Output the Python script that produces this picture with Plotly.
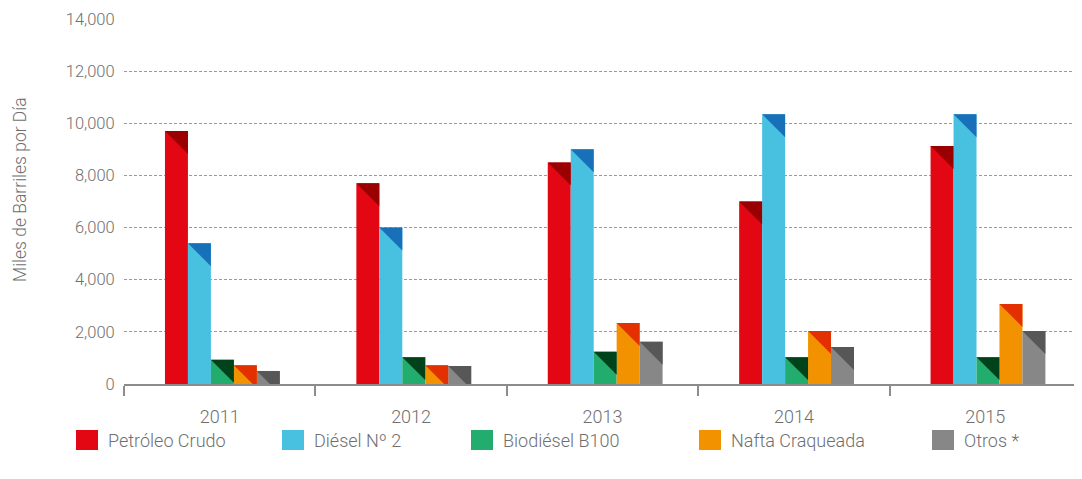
import plotly.graph_objects as go

# ---- data ----
years = ["2011", "2012", "2013", "2014", "2015"]
series_names = ["Petróleo Crudo", "Diésel Nº 2", "Biodiésel B100", "Nafta Craqueada", "Otros *"]
petroleo = [9700, 7700, 8500, 7000, 9130]
diesel = [5400, 6000, 9000, 10350, 10350]
biodiesel = [930, 1030, 1240, 1030, 1030]
nafta = [720, 720, 2340, 2030, 3070]
otros = [500, 690, 1620, 1420, 2030]
y_ticks = [0, 2000, 4000, 6000, 8000, 10000, 12000, 14000]

series_values = [petroleo, diesel, biodiesel, nafta, otros]
main_colors = ["#E30613", "#48C0E0", "#22AD6F", "#F39200", "#878787"]
dark_colors = ["#9A0000", "#1870B8", "#00421A", "#E23000", "#575757"]

# ---- layout geometry (page body has an 8px margin) ----
PAGE = 8
W, H = 1082 - PAGE, 479 - PAGE
PL, PR, PT, PB = 124, 1081, 19, 384          # plot area in page pixels
ML, MT = PL - PAGE, PT - PAGE
MR, MB = W - (PR - PAGE), H - (PB - PAGE)
PW, PH = PR - PL, PB - PT
XR = [-0.5, 4.5]
YR = [0, 14000]
BW = 0.12
SHIFT = 0.014
xpx = PW / (XR[1] - XR[0])
ypx = PH / (YR[1] - YR[0])


def px_x(px):
    return (px - PL) / PW


def px_y(py):
    return (PB - py) / PH


fig = go.Figure()
xs = list(range(len(years)))

for i, (name, vals) in enumerate(zip(series_names, series_values)):
    off = -0.3 + i * BW + SHIFT
    fig.add_trace(go.Bar(
        x=xs, y=vals, name=name, width=BW, offset=off,
        marker=dict(color=main_colors[i], line=dict(width=0)),
        showlegend=False,
    ))
    # dark corner triangles
    h = BW * xpx / ypx
    for x, v in zip(xs, vals):
        xl = x + off
        xr = xl + BW
        if v - h >= 0:
            pxs = [xl, xr, xr, xl]
            pys = [v, v, v - h, v]
        else:
            t = v / h
            xm = xl + t * (xr - xl)
            pxs = [xl, xr, xr, xm, xl]
            pys = [v, v, 0, 0, v]
        fig.add_trace(go.Scatter(
            x=pxs, y=pys, mode="lines", fill="toself",
            fillcolor=dark_colors[i], line=dict(width=0, color=dark_colors[i]),
            hoverinfo="skip", showlegend=False,
        ))

txt_color = "#6f6f6f"
font_family = "Roboto, Liberation Sans, Arial, sans-serif"
FW = 300

# custom legend
leg_sq_x = [76, 282, 471, 699, 932]
shapes = []
annotations = []
for i, name in enumerate(series_names):
    x0 = leg_sq_x[i]
    shapes.append(dict(
        type="rect", xref="paper", yref="paper",
        x0=px_x(x0), x1=px_x(x0 + 22),
        y0=px_y(450), y1=px_y(430),
        fillcolor=main_colors[i], line=dict(width=0),
    ))
    annotations.append(dict(
        x=px_x(x0 + 30), y=px_y(440), xref="paper", yref="paper",
        text=name, showarrow=False, xanchor="left", yanchor="middle",
        font=dict(size=18, color=txt_color, family=font_family, weight=FW),
    ))

annotations.append(dict(
    x=px_x(20), y=px_y(190), xref="paper", yref="paper",
    text="Miles de Barriles por Día", textangle=-90, showarrow=False,
    xanchor="center", yanchor="middle",
    font=dict(size=17.5, color=txt_color, family=font_family, weight=FW),
))

fig.update_layout(
    width=W, height=H,
    margin=dict(l=ML, r=MR, t=MT, b=MB),
    plot_bgcolor="white", paper_bgcolor="white",
    barmode="overlay",
    showlegend=False,
    shapes=shapes,
    annotations=annotations,
    font=dict(family=font_family, color=txt_color, weight=FW),
    xaxis=dict(
        range=XR, tickvals=xs, ticktext=years,
        ticks="outside", ticklen=16, tickcolor="rgba(0,0,0,0)",
        tickfont=dict(size=18, color=txt_color, family=font_family, weight=FW),
        showgrid=False, zeroline=False,
        showline=True, linecolor="#8c8c8c", linewidth=1.5,
        minor=dict(tickvals=[-0.5, 0.5, 1.5, 2.5, 3.5, 4.5], ticks="outside",
                   ticklen=10, tickcolor="#8c8c8c", tickwidth=1.5, showgrid=False),
        fixedrange=True,
    ),
    yaxis=dict(
        range=YR, tickvals=y_ticks, tickformat=",",
        ticks="outside", ticklen=5, tickcolor="rgba(0,0,0,0)",
        tickfont=dict(size=16.5, color=txt_color, family=font_family, weight=FW),
        showgrid=True, gridcolor="#9a9a9a", gridwidth=1, griddash="3px,2px",
        zeroline=False, showline=False,
    ),
)

fig.write_html("out.html")
